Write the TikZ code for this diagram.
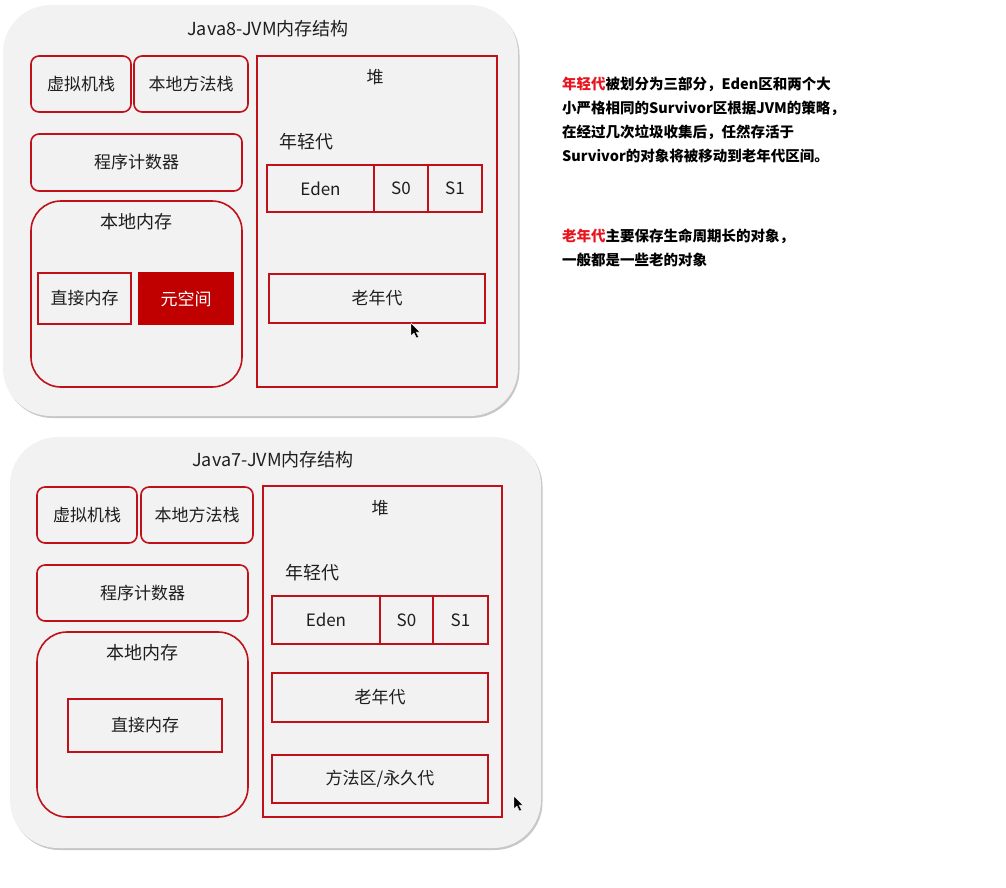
\documentclass[tikz,border=0pt]{standalone}
\usepackage{fontspec}
\setmainfont{Noto Sans CJK SC}
\usetikzlibrary{shadows}
\definecolor{bred}{HTML}{C0101A}
\definecolor{mred}{HTML}{C00000}
\definecolor{tred}{HTML}{E8141E}
\definecolor{panelbg}{HTML}{F2F2F2}
\definecolor{txt}{HTML}{1E1E1E}
\tikzset{
  panel/.style={draw=none, fill=panelbg, rounded corners=48pt, inner sep=0pt,
    drop shadow={shadow xshift=1.5pt, shadow yshift=-2pt, opacity=0.4, fill=black!55}},
  rbox/.style={draw=bred, line width=1.6pt, rounded corners=8pt, inner sep=0pt, text=txt,
    font=\fontsize{17}{20}\selectfont},
  sbox/.style={draw=bred, line width=1.6pt, inner sep=0pt, text=txt,
    font=\fontsize{17}{20}\selectfont},
  lbl/.style={inner sep=0pt, text=txt, font=\fontsize{17}{20}\selectfont},
  note/.style={inner sep=0pt, anchor=north west, align=left, text=black,
    font=\bfseries\fontsize{14.5}{24}\selectfont},
  cursor/.style={fill=black, draw=white, line width=0.4pt}
}
\begin{document}
\begin{tikzpicture}[x=1pt,y=-1pt]
\useasboundingbox[fill=white] (0,0) rectangle (1006,887);

% ---------- Java 8 panel ----------
\node[panel, minimum width=515pt, minimum height=411pt] (p8) at (260.5,210.5) {};
\node[lbl, font=\fontsize{18}{20}\selectfont] (t8) at (268,29) {Java8-JVM内存结构};
\node[rbox, minimum width=100pt, minimum height=56pt] (vm8) at (81,84) {虚拟机栈};
\node[rbox, minimum width=114pt, minimum height=56pt] (nm8) at (191,84) {本地方法栈};
\node[rbox, minimum width=211pt, minimum height=57pt] (pc8) at (136.5,162.5) {程序计数器};
\node[rbox, rounded corners=30pt, minimum width=211pt, minimum height=186pt] (loc8) at (136.5,294) {};
\node[lbl, font=\fontsize{18}{20}\selectfont] (loct8) at (136.5,222) {本地内存};
\node[sbox, minimum width=93pt, minimum height=51pt] (dm8) at (84.5,298.5) {直接内存};
\node[sbox, draw=mred, fill=mred, text=white, minimum width=94pt, minimum height=51pt] (meta8) at (186,298.5) {元空间};
\node[sbox, minimum width=240pt, minimum height=331pt] (heap8) at (377,221.5) {};
\node[lbl] (heapt8) at (375,77) {堆};
\node[lbl, font=\fontsize{18}{20}\selectfont] (young8) at (306,142) {年轻代};
\node[sbox, minimum width=107pt, minimum height=47pt] (eden8) at (320.5,188.5) {Eden};
\node[sbox, minimum width=54pt, minimum height=47pt] (s08) at (401,188.5) {S0};
\node[sbox, minimum width=54pt, minimum height=47pt] (s18) at (455,188.5) {S1};
\node[sbox, minimum width=216pt, minimum height=49pt] (old8) at (377,298.5) {老年代};
\fill[cursor] (411,323) -- ++(0,13) -- ++(3,-3) -- ++(2.5,5) -- ++(2,-1) -- ++(-2.5,-5) -- ++(4,0) -- cycle;

% ---------- Java 7 panel ----------
\node[panel, minimum width=531pt, minimum height=411pt] (p7) at (275.5,642.5) {};
\node[lbl, font=\fontsize{18}{20}\selectfont] (t7) at (273,460) {Java7-JVM内存结构};
\node[rbox, minimum width=100pt, minimum height=56pt] (vm7) at (87,515) {虚拟机栈};
\node[rbox, minimum width=112pt, minimum height=56pt] (nm7) at (197,515) {本地方法栈};
\node[rbox, minimum width=211pt, minimum height=56pt] (pc7) at (142.5,593) {程序计数器};
\node[rbox, rounded corners=30pt, minimum width=211pt, minimum height=185pt] (loc7) at (142.5,724.5) {};
\node[lbl, font=\fontsize{18}{20}\selectfont] (loct7) at (142.5,653) {本地内存};
\node[sbox, minimum width=154pt, minimum height=53pt] (dm7) at (145,725.5) {直接内存};
\node[sbox, minimum width=239pt, minimum height=331pt] (heap7) at (382.5,651.5) {};
\node[lbl] (heapt7) at (380,508) {堆};
\node[lbl, font=\fontsize{18}{20}\selectfont] (young7) at (312,573) {年轻代};
\node[sbox, minimum width=108pt, minimum height=48pt] (eden7) at (326,620) {Eden};
\node[sbox, minimum width=53pt, minimum height=48pt] (s07) at (406.5,620) {S0};
\node[sbox, minimum width=55pt, minimum height=48pt] (s17) at (460.5,620) {S1};
\node[sbox, minimum width=216pt, minimum height=49pt] (old7) at (380,697.5) {老年代};
\node[sbox, minimum width=216pt, minimum height=48pt] (perm7) at (380,779) {方法区/永久代};
\fill[cursor] (514,796) -- ++(0,13) -- ++(3,-3) -- ++(2.5,5) -- ++(2,-1) -- ++(-2.5,-5) -- ++(4,0) -- cycle;

% ---------- notes ----------
\node[note] (n1) at (562,77) {\textcolor{tred}{年轻代}被划分为三部分，Eden区和两个大\\
小严格相同的Survivor区根据JVM的策略，\\
在经过几次垃圾收集后，任然存活于\\
Survivor的对象将被移动到老年代区间。};
\node[note] (n2) at (562,229) {\textcolor{tred}{老年代}主要保存生命周期长的对象，\\
一般都是一些老的对象};
\end{tikzpicture}
\end{document}
